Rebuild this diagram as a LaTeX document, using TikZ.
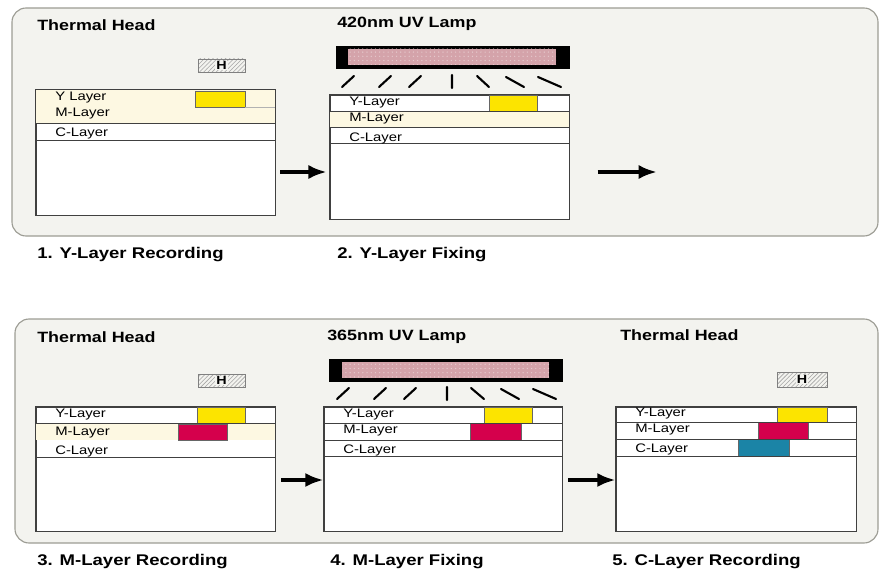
\documentclass[tikz,border=0pt]{standalone}
\usepackage{fontspec}
\setmainfont{Liberation Sans}[FakeStretch=1.2]
\usetikzlibrary{arrows.meta, positioning, patterns, fit, calc}
\definecolor{panelfill}{HTML}{F3F3EF}
\definecolor{panelline}{HTML}{9C9C94}
\definecolor{creamrow}{HTML}{FDF8E2}
\definecolor{yellowdye}{HTML}{FCE400}
\definecolor{magentadye}{HTML}{D5004C}
\definecolor{cyandye}{HTML}{1B84A6}
\definecolor{lamppink}{HTML}{D4A3AA}
\colorlet{layerline}{black!75}

\tikzset{
  panel/.style={draw=panelline, fill=panelfill, rounded corners=10pt, line width=0.8pt},
  layerbox/.style={draw=layerline, fill=white, line width=0.6pt, inner sep=0pt},
  rowline/.style={draw=layerline, line width=0.6pt},
  dyeblock/.style={draw=black!60, line width=0.4pt},
  heading/.style={anchor=west, inner sep=0pt, font=\bfseries\fontsize{10.6}{12}\selectfont},
  steplabel/.style={anchor=west, inner sep=0pt, font=\bfseries\fontsize{11}{13}\selectfont},
  layertxt/.style={anchor=west, inner sep=0pt, font=\fontsize{8.8}{10}\selectfont},
  headbox/.style={draw=black!50, line width=0.5pt, pattern=north east lines, pattern color=black!35, inner sep=0pt},
  hletter/.style={fill=panelfill, inner sep=0.6pt, font=\bfseries\fontsize{8.5}{10}\selectfont},
  lamptube/.style={fill=black, draw=black, inner sep=0pt},
  flow/.style={-{Latex[length=13pt, width=10pt]}, line width=3pt},
  ray/.style={line width=1.5pt, line cap=round}
}

\begin{document}
\begin{tikzpicture}[x=0.025cm, y=-0.025cm]
  \useasboundingbox (0,0) rectangle (880,571);

  % upper row
  \draw[panel] (12,8) rectangle (878,236);
  \node[heading] (th1) at (37,25) {Thermal Head};
  \node[headbox, fit={(198,59) (245,72)}] (head1) {};
  \node[hletter] at (head1) {H};

  \node[layerbox, fit={(36,90) (275,215)}] (lay1) {};
  \fill[creamrow] (36,90) rectangle (275,123);
  \draw[dyeblock, fill=yellowdye] (195,91) rectangle (245,107);
  \draw[rowline, draw=black!30] (245,107) -- (275,107);
  \draw[rowline] (36,123) -- (275,123);
  \draw[rowline] (36,140) -- (275,140);
  \draw[rowline] (lay1.south west) rectangle (lay1.north east);
  \node[layertxt] (y1) at (55,98) {Y Layer};
  \node[layertxt] (m1) at (55,114) {M-Layer};
  \node[layertxt] (c1) at (55,133) {C-Layer};

  \node[heading] (uv1) at (337,24) {420nm UV Lamp};
  \node[lamptube, fit={(336,46) (569,68)}] (lamp1) {};
  \fill[lamppink] (348,49) rectangle (556,65);
  \fill[pattern=dots, pattern color=white!40!lamppink] (348,49) rectangle (556,65);
  \draw[ray] (342,87) -- (354,76)  (379,87) -- (391,76)  (409,87) -- (421,76)
             (452,75) -- (452,88)
             (477,76) -- (489,87)  (506,77) -- (524,87)  (538,77) -- (561,87);

  \node[layerbox, fit={(330,95) (569,219)}] (lay2) {};
  \fill[creamrow] (330,111) rectangle (569,127);
  \draw[dyeblock, fill=yellowdye] (489,95) rectangle (537,111);
  \draw[rowline] (330,111) -- (569,111);
  \draw[rowline] (330,127) -- (569,127);
  \draw[rowline] (330,143) -- (569,143);
  \draw[rowline] (lay2.south west) rectangle (lay2.north east);
  \node[layertxt] (y2) at (349,103) {Y-Layer};
  \node[layertxt] (m2) at (349,119) {M-Layer};
  \node[layertxt] (c2) at (349,138) {C-Layer};

  \coordinate (row1) at (0,172);
  \coordinate (next1) at (657,172);
  \draw[flow] ([xshift=3.5pt]lay1.east |- row1) -- ([xshift=-2pt]lay2.west |- row1);
  \draw[flow] ([xshift=20pt]lay2.east |- row1) -- (next1);

  \node[steplabel] (s1) at (37,255) {1. Y-Layer Recording};
  \node[steplabel] (s2) at (337,255) {2. Y-Layer Fixing};

  % lower row
  \draw[panel] (15,319) rectangle (878,543);
  \node[heading] (th3) at (37,337) {Thermal Head};
  \node[headbox, fit={(198,374) (245,387)}] (head3) {};
  \node[hletter] at (head3) {H};

  \node[layerbox, fit={(36,407) (275,531)}] (lay3) {};
  \fill[creamrow] (36,423) rectangle (275,440);
  \draw[dyeblock, fill=yellowdye] (197,407) rectangle (245,423);
  \draw[dyeblock, fill=magentadye] (178,424) rectangle (227,440);
  \draw[rowline] (36,423) -- (275,423);
  \draw[rowline] (36,457) -- (275,457);
  \draw[rowline] (lay3.south west) rectangle (lay3.north east);
  \node[layertxt] (y3) at (55,415) {Y-Layer};
  \node[layertxt] (m3) at (55,433) {M-Layer};
  \node[layertxt] (c3) at (55,451) {C-Layer};

  \node[heading] (uv2) at (327,337) {365nm UV Lamp};
  \node[lamptube, fit={(329,359) (562,381)}] (lamp2) {};
  \fill[lamppink] (342,362) rectangle (549,378);
  \fill[pattern=dots, pattern color=white!40!lamppink] (342,362) rectangle (549,378);
  \draw[ray] (337,399) -- (349,388)  (374,399) -- (386,388)  (404,399) -- (416,388)
             (447,387) -- (447,400)
             (471,388) -- (484,399)  (501,389) -- (519,399)  (533,389) -- (556,399);

  \node[layerbox, fit={(324,407) (562,531)}] (lay4) {};
  \draw[dyeblock, fill=yellowdye] (484,407) rectangle (532,423);
  \draw[dyeblock, fill=magentadye] (470,423) rectangle (521,440);
  \draw[rowline] (324,423) -- (562,423);
  \draw[rowline] (324,440) -- (562,440);
  \draw[rowline] (324,456) -- (562,456);
  \draw[rowline] (lay4.south west) rectangle (lay4.north east);
  \node[layertxt] (y4) at (343,415) {Y-Layer};
  \node[layertxt] (m4) at (343,431) {M-Layer};
  \node[layertxt] (c4) at (343,450) {C-Layer};

  \node[heading] (th5) at (620,335) {Thermal Head};
  \node[headbox, fit={(777,372) (827,387)}] (head5) {};
  \node[hletter] at (head5) {H};

  \node[layerbox, fit={(616,407) (856,531)}] (lay5) {};
  \draw[dyeblock, fill=yellowdye] (777,407) rectangle (827,422);
  \draw[dyeblock, fill=magentadye] (758,422) rectangle (808,439);
  \draw[dyeblock, fill=cyandye] (738,439) rectangle (789,456);
  \draw[rowline] (616,422) -- (856,422);
  \draw[rowline] (616,439) -- (856,439);
  \draw[rowline] (616,456) -- (856,456);
  \draw[rowline] (lay5.south west) rectangle (lay5.north east);
  \node[layertxt] (y5) at (635,414) {Y-Layer};
  \node[layertxt] (m5) at (635,430) {M-Layer};
  \node[layertxt] (c5) at (635,449) {C-Layer};

  \coordinate (row2) at (0,480);
  \draw[flow] ([xshift=4pt]lay3.east |- row2) -- (lay4.west |- row2);
  \draw[flow] ([xshift=4pt]lay4.east |- row2) -- (lay5.west |- row2);

  \node[steplabel] (s3) at (37,562) {3. M-Layer Recording};
  \node[steplabel] (s4) at (330,562) {4. M-Layer Fixing};
  \node[steplabel] (s5) at (612,562) {5. C-Layer Recording};
\end{tikzpicture}
\end{document}
